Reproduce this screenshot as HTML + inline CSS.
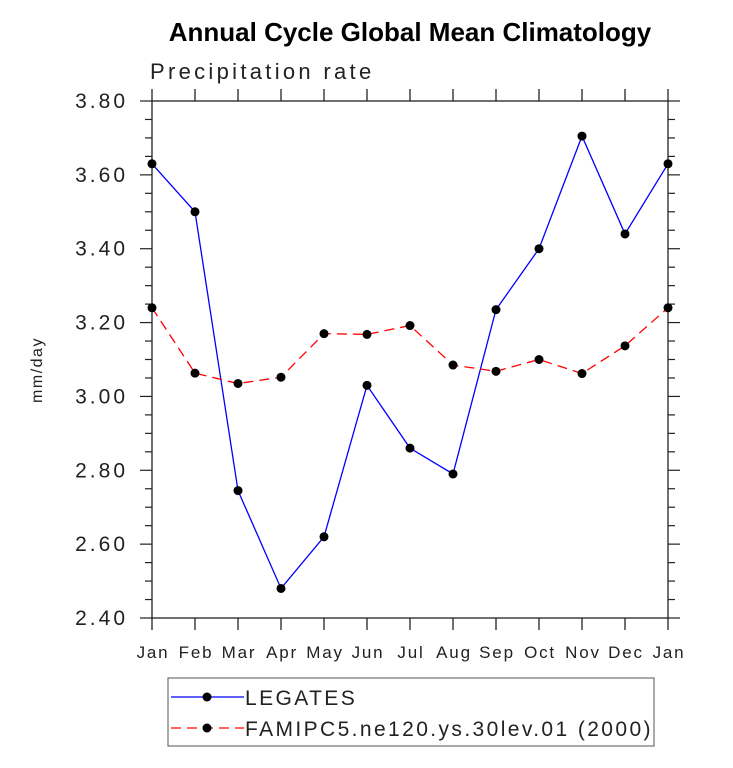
<!DOCTYPE html>
<html><head><meta charset="utf-8"><style>
body{margin:0;background:#fff;}
svg{display:block;font-family:"Liberation Sans",sans-serif;}
</style></head><body>
<svg id="c" width="733" height="768">
<text x="410" y="41" text-anchor="middle" font-size="26" font-weight="bold">Annual Cycle Global Mean Climatology</text>
<text x="150" y="79" font-size="22" fill="#222" letter-spacing="3.3">Precipitation rate</text>
<text transform="translate(42,370) rotate(-90)" text-anchor="middle" font-size="16" fill="#222" letter-spacing="1.5">mm/day</text>
<g id="axes"></g>
<g id="series"></g>
<g>
<rect x="168" y="678" width="486" height="68" fill="none" stroke="#555" stroke-width="1"/>
<g>
<line x1="171" y1="697" x2="244" y2="697" stroke="#0000ff" stroke-width="1.3"/>
<circle cx="207" cy="697" r="4.5" fill="#000"/>
<text x="245" y="705" font-size="21" fill="#222" letter-spacing="2.4">LEGATES</text></g>
<g>
<line x1="171" y1="728" x2="244" y2="728" stroke="#ff0000" stroke-width="1.3" stroke-dasharray="10,6"/>
<circle cx="207" cy="728" r="4.5" fill="#000"/>
<text x="245" y="736" font-size="21" fill="#222" letter-spacing="2.4">FAMIPC5.ne120.ys.30lev.01 (2000)</text></g>
</g>
</svg>
<script>
const months=["Jan","Feb","Mar","Apr","May","Jun","Jul","Aug","Sep","Oct","Nov","Dec","Jan"];
const legates=[3.63,3.50,2.745,2.48,2.62,3.03,2.86,2.79,3.235,3.40,3.705,3.44,3.63];
const famip=[3.24,3.063,3.035,3.052,3.17,3.168,3.192,3.085,3.068,3.10,3.062,3.137,3.24];
const yTicks=[2.40,2.60,2.80,3.00,3.20,3.40,3.60,3.80];
const X0=152,X1=668,Y0=618,Y1=101,YMIN=2.4,YMAX=3.8;
const xs=i=>X0+(X1-X0)*i/(months.length-1);
const ys=v=>Y0-(v-YMIN)/(YMAX-YMIN)*(Y0-Y1);
const NS="http://www.w3.org/2000/svg";
function mk(tag,attrs,parent){const e=document.createElementNS(NS,tag);for(const k in attrs)e.setAttribute(k,attrs[k]);parent.appendChild(e);return e;}
const ax=document.getElementById('axes');
const box=mk('rect',{x:X0,y:Y1,width:X1-X0,height:Y0-Y1,fill:'none',stroke:'#222','stroke-width':1.3},ax);


months.forEach((m,i)=>{
  const x=xs(i);
  mk('line',{x1:x,y1:Y0,x2:x,y2:Y0+12,stroke:'#222','stroke-width':1.3},ax);
  mk('line',{x1:x,y1:Y1,x2:x,y2:Y1-12,stroke:'#222','stroke-width':1.3},ax);
  const t=mk('text',{x:x+1,y:658,'text-anchor':'middle','font-size':17,fill:'#222','letter-spacing':1.8},ax);
  t.textContent=m;
  
  
});
for(let v=YMIN;v<=YMAX+1e-9;v+=0.05){
  const y=ys(v);const major=Math.abs(Math.round(v*5)-v*5)<1e-6;
  const L=major?12:7;
  mk('line',{x1:X0,y1:y,x2:X0-L,y2:y,stroke:'#222','stroke-width':1.2},ax);
  mk('line',{x1:X1,y1:y,x2:X1+L,y2:y,stroke:'#222','stroke-width':1.2},ax);
}
yTicks.forEach(v=>{
  const t=mk('text',{x:128,y:ys(v)+7,'text-anchor':'end','font-size':21,fill:'#222','letter-spacing':3},ax);
  t.textContent=v.toFixed(2);
  
  
});
const sg=document.getElementById('series');
function series(vals,color,dash,name){
  const g=mk('g',{},sg);
  
  
  const p=mk('polyline',{points:vals.map((v,i)=>xs(i)+','+ys(v)).join(' '),fill:'none',stroke:color,'stroke-width':1.3},g);
  if(dash)p.setAttribute('stroke-dasharray',dash);
  vals.forEach((v,i)=>{
    const c=mk('circle',{cx:xs(i),cy:ys(v),r:4.5,fill:'#000'},g);
    
    
  });
}
series(legates,'#0000ff',null,'legates-series');
series(famip,'#ff0000','10,6','famipc5-series');
</script>
</body></html>
